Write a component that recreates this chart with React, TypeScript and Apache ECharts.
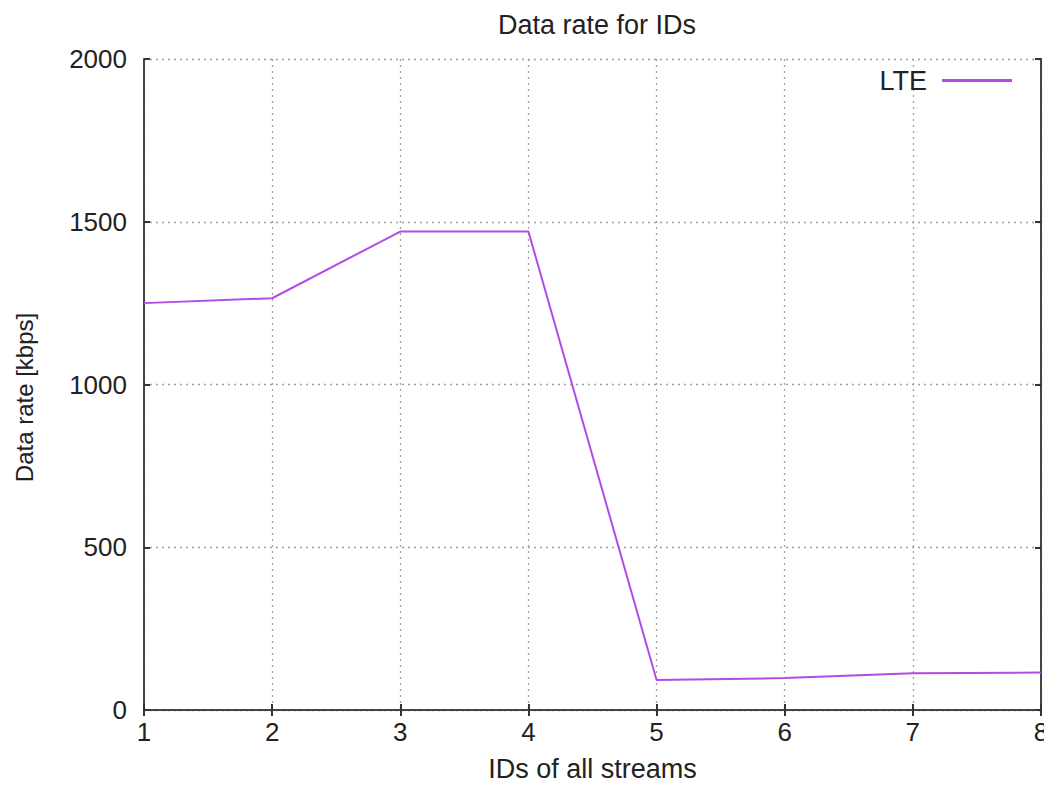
import React, { useEffect, useRef } from "react";
import * as echarts from "echarts";

const streamIds = [1, 2, 3, 4, 5, 6, 7, 8];
const lteRates = [1250, 1265, 1470, 1470, 92, 98, 113, 115];
const yTicks = [0, 500, 1000, 1500, 2000];

const FONT = "Liberation Sans, Arial, sans-serif";

export default function App() {
  const ref = useRef<HTMLDivElement>(null);
  useEffect(() => {
    if (!ref.current) return;
    const chart = echarts.init(ref.current, null, { renderer: "svg" });
    const gridLine = { show: true, lineStyle: { color: "#a0a0a0", type: [2, 4] as any, width: 1.3 } };
    const axisLine = { show: true, lineStyle: { color: "#444", width: 2 } };
    const tick = { show: true, inside: true, length: 6, lineStyle: { color: "#333", width: 2 } };
    chart.setOption({
      animation: false,
      backgroundColor: "#fff",
      title: {
        text: "Data rate for IDs",
        left: 592,
        top: 6,
        textAlign: "center",
        textStyle: { fontFamily: FONT, fontWeight: "normal", fontSize: 27, color: "#222" },
      },
      legend: {
        data: ["LTE"],
        right: 35,
        top: 62,
        align: "right",
        itemWidth: 70,
        itemHeight: 3,
        itemGap: 10,
        icon: "rect",
        textStyle: { fontFamily: FONT, fontSize: 27, color: "#222", padding: [0, 10, 0, 0] },
      },
      grid: { left: 144, right: 11, top: 59, bottom: 75, show: false },
      xAxis: [
        {
          type: "value",
          min: 1,
          max: 8,
          interval: 1,
          name: "IDs of all streams",
          nameLocation: "middle",
          nameGap: 45,
          nameTextStyle: { fontFamily: FONT, fontSize: 27, color: "#222" },
          axisLine,
          axisTick: tick,
          splitLine: gridLine,
          axisLabel: { fontFamily: FONT, fontSize: 26, color: "#222", margin: 9 },
        },
        {
          type: "value",
          position: "top",
          min: 1,
          max: 8,
          interval: 1,
          axisLine,
          axisTick: tick,
          splitLine: { show: false },
          axisLabel: { show: false },
        },
      ],
      yAxis: [
        {
          type: "value",
          min: 0,
          max: 2000,
          interval: 500,
          name: "Data rate [kbps]",
          nameLocation: "middle",
          nameGap: 108,
          nameRotate: 90,
          nameTextStyle: { fontFamily: FONT, fontSize: 24, color: "#222", padding: [0, 26, 0, 0] },
          axisLine,
          axisTick: tick,
          splitLine: gridLine,
          axisLabel: {
            fontFamily: FONT,
            fontSize: 26,
            color: "#222",
            margin: 17,
            formatter: (v: number) => (yTicks.includes(v) ? String(v) : ""),
          },
        },
        {
          type: "value",
          position: "right",
          min: 0,
          max: 2000,
          interval: 500,
          axisLine,
          axisTick: tick,
          splitLine: { show: false },
          axisLabel: { show: false },
        },
      ],
      series: [
        {
          name: "LTE",
          type: "line",
          data: streamIds.map((id, i) => [id, lteRates[i]]),
          showSymbol: false,
          symbol: "none",
          lineStyle: { color: "#b44be8", width: 2 },
          itemStyle: { color: "#b44be8" },
        },
      ],
    });
    return () => chart.dispose();
  }, []);
  return <div ref={ref} style={{ width: 1052, height: 787, margin: -8 }} />;
}
